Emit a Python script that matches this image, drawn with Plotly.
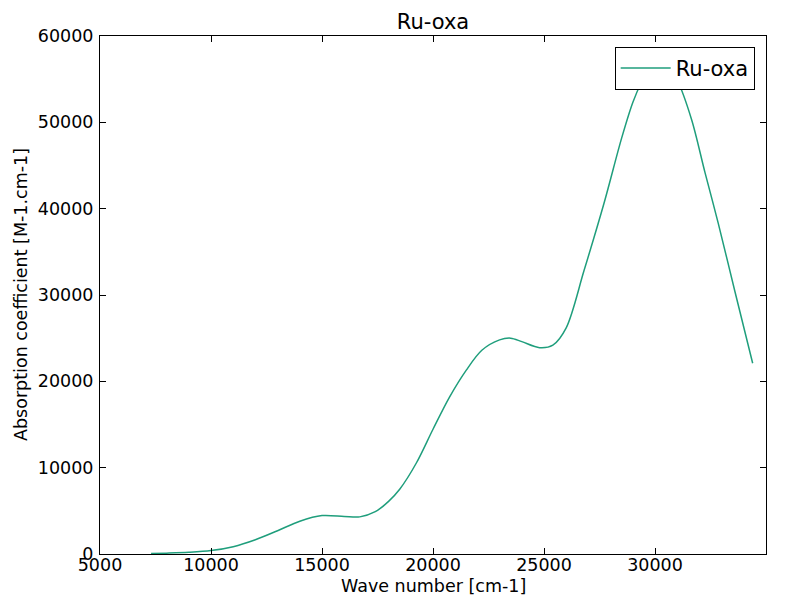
import plotly.graph_objects as go

wave_number = [7300, 8000, 9000, 10000, 11000, 12000, 13000, 14000, 15000, 16000,
               16700, 17400, 18000, 18500, 19250, 20000, 20750, 21500, 22200, 23000,
               23500, 24000, 24800, 25400, 26000, 26800, 27700, 28500, 29000, 29400,
               29800, 30200, 30600, 31000, 31650, 32250, 32850, 33600, 34400]
absorption = [50, 100, 200, 400, 850, 1650, 2700, 3800, 4450, 4350,
              4300, 4900, 6100, 7500, 10540, 14450, 18200, 21300, 23600, 24800,
              25000, 24600, 23900, 24200, 26200, 32800, 40600, 48200, 52300, 54700,
              56500, 57200, 56500, 54900, 50300, 44200, 38300, 30400, 22100]

x_ticks = [5000, 10000, 15000, 20000, 25000, 30000, 35000]
y_ticks = [0, 10000, 20000, 30000, 40000, 50000, 60000]

font = "DejaVu Sans"

fig = go.Figure()
fig.add_trace(go.Scatter(
    x=wave_number, y=absorption, mode="lines", name="Ru-oxa",
    line=dict(color="#1f9e7c", width=1.5, shape="spline", smoothing=0.9),
))

axis_common = dict(
    showline=True, linecolor="black", linewidth=1, mirror="ticks",
    ticks="inside", ticklen=6, tickcolor="black", tickwidth=1,
    showgrid=False, zeroline=False, automargin=False,
    tickfont=dict(family=font, size=17.5, color="black"),
)

fig.update_layout(
    width=793, height=595,
    margin=dict(l=100, r=27, t=36, b=41),
    paper_bgcolor="white", plot_bgcolor="white",
    font=dict(family=font, color="black"),
    title=dict(text="Ru-oxa", x=0.546, xanchor="center", y=0.963, yanchor="middle",
               yref="container", font=dict(family=font, size=21, color="black")),
    xaxis=dict(range=[5000, 35000], tickvals=x_ticks, ticktext=[str(v) for v in x_ticks],
               ticklabelstandoff=-5, **axis_common),
    yaxis=dict(range=[0, 60000], tickvals=y_ticks, ticktext=[str(v) for v in y_ticks],
               ticklabelstandoff=2, **axis_common),
    annotations=[
        dict(text="Wave number [cm-1]", xref="paper", yref="paper", x=0.5, y=0,
             xanchor="center", yanchor="middle", yshift=-32, showarrow=False,
             font=dict(family=font, size=17.5, color="black")),
        dict(text="Absorption coefficient [M-1.cm-1]", xref="paper", yref="paper", x=0, y=0.5,
             xanchor="center", yanchor="middle", xshift=-79, textangle=-90, showarrow=False,
             font=dict(family=font, size=17.5, color="black")),
    ],
    showlegend=True,
    legend=dict(x=0.983, y=0.979, xanchor="right", yanchor="top",
                bordercolor="black", borderwidth=1, bgcolor="white",
                font=dict(family=font, size=21, color="black"),
                itemwidth=50),
)

fig.write_html("out.html")
